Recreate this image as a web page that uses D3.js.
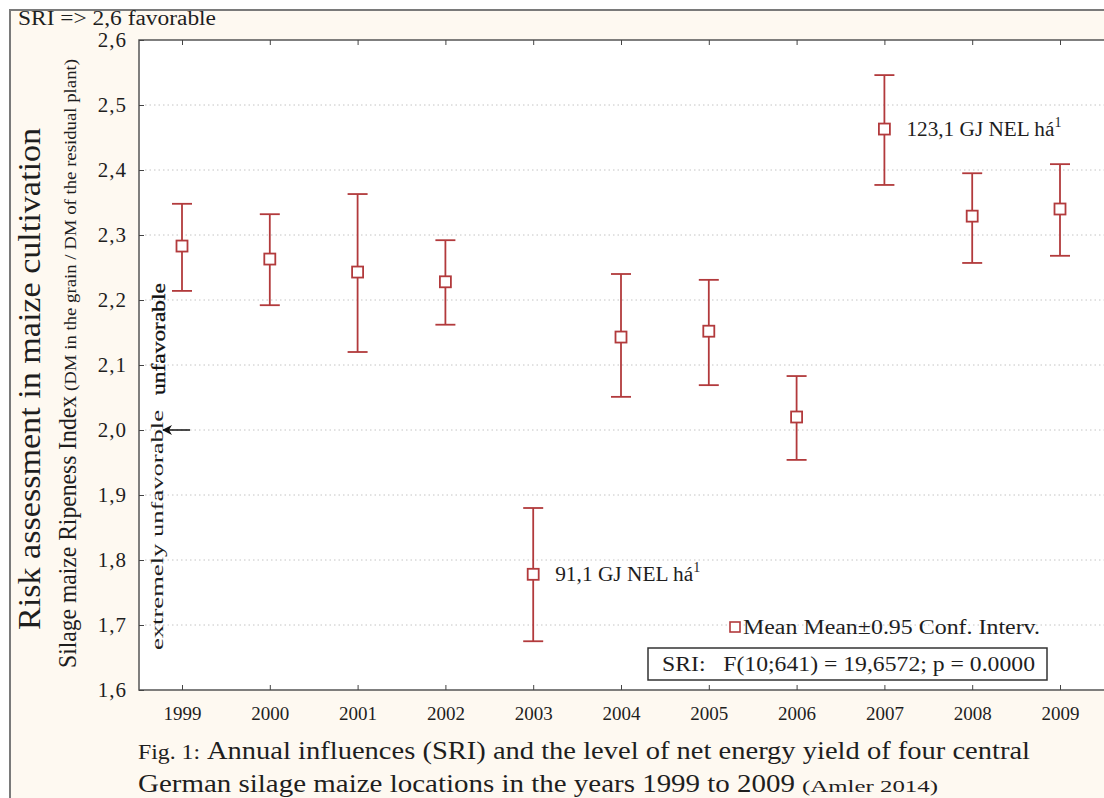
<!DOCTYPE html>
<html>
<head>
<meta charset="utf-8">
<script src="https://cdn.jsdelivr.net/npm/d3@7"></script>
<style>
  body { margin: 0; background: #fff; }
</style>
</head>
<body>
<svg id="chart" width="1104" height="798"></svg>
<script>
// data
const years = ["1999", "2000", "2001", "2002", "2003", "2004", "2005", "2006", "2007", "2008", "2009"];
const means = [2.283, 2.263, 2.243, 2.228, 1.778, 2.143, 2.152, 2.020, 2.463, 2.329, 2.340];
const upper = [2.348, 2.332, 2.363, 2.292, 1.880, 2.240, 2.231, 2.083, 2.546, 2.395, 2.409];
const lower = [2.214, 2.192, 2.120, 2.162, 1.675, 2.051, 2.069, 1.954, 2.377, 2.257, 2.268];
const yTicks = [1.6, 1.7, 1.8, 1.9, 2.0, 2.1, 2.2, 2.3, 2.4, 2.5, 2.6];
const notes = [
  { year: "2007", value: 2.463, label: "123,1 GJ NEL há", len: 148 },
  { year: "2003", value: 1.778, label: "91,1 GJ NEL há", len: 138 }
];

const data = years.map((y, i) => ({ year: y, mean: means[i], hi: upper[i], lo: lower[i] }));

const svg = d3.select("#chart");
const red = "#b23a3c";
const ink = "#1e1e1e";
const serif = '"Liberation Serif", "Times New Roman", serif';
const fmt = d => d3.format(".1f")(d).replace(".", ",");

// little helper for text with fixed length
function label(sel, size, len) {
  sel.style("font-family", serif).attr("font-size", size).attr("fill", ink);
  if (len) sel.attr("textLength", len).attr("lengthAdjust", "spacingAndGlyphs");
  return sel;
}

// outer frame
svg.append("rect")
  .attr("x", 10).attr("y", 10).attr("width", 1110).attr("height", 800)
  .attr("fill", "#fef9f1").attr("stroke", "#7a7a7a").attr("stroke-width", 2);

const pLeft = 139, pTop = 40, pBottom = 690, pRight = 1110;

const x = d3.scalePoint().domain(years).range([182, 1060]);
const y = d3.scaleLinear().domain([1.6, 2.6]).range([pBottom, pTop]);

// plot area
svg.append("rect")
  .attr("x", pLeft).attr("y", pTop).attr("width", pRight - pLeft).attr("height", pBottom - pTop)
  .attr("fill", "#fff").attr("stroke", "#555").attr("stroke-width", 1.5);

// dotted grid
svg.append("g").selectAll("line")
  .data(yTicks.filter(t => t > 1.6 && t < 2.6))
  .join("line")
  .attr("x1", pLeft + 6).attr("x2", pRight)
  .attr("y1", d => y(d)).attr("y2", d => y(d))
  .attr("stroke", "#c4c4c4").attr("stroke-width", 1).attr("stroke-dasharray", "1.5,3");

// y axis
const yAxis = svg.append("g")
  .attr("transform", `translate(${pLeft},0)`)
  .call(d3.axisLeft(y).tickValues(yTicks).tickFormat(fmt).tickSize(-5).tickPadding(12));
yAxis.attr("font-family", serif);
yAxis.select(".domain").remove();
yAxis.selectAll("line").attr("stroke", "#444");
yAxis.selectAll("text").style("font-family", serif).attr("font-size", 21).attr("fill", ink)
  .attr("letter-spacing", 1);

// x axis bottom and top
const xAxis = svg.append("g")
  .attr("transform", `translate(0,${pBottom})`)
  .call(d3.axisBottom(x).tickSize(-5).tickPadding(17));
xAxis.attr("font-family", serif);
xAxis.select(".domain").remove();
xAxis.selectAll("line").attr("stroke", "#444");
xAxis.selectAll("text").style("font-family", serif).attr("font-size", 19).attr("fill", ink);

const xTop = svg.append("g")
  .attr("transform", `translate(0,${pTop})`)
  .call(d3.axisTop(x).tickSize(-5).tickFormat(""));
xTop.select(".domain").remove();
xTop.selectAll("line").attr("stroke", "#444");

// error bars
const g = svg.append("g");
g.selectAll(".whisker")
  .data(data)
  .join("line")
  .attr("class", "whisker")
  .attr("x1", d => x(d.year)).attr("x2", d => x(d.year))
  .attr("y1", d => y(d.hi)).attr("y2", d => y(d.lo))
  .attr("stroke", red).attr("stroke-width", 1.8);
["hi", "lo"].forEach(k => {
  g.selectAll(".cap-" + k)
    .data(data)
    .join("line")
    .attr("class", "cap-" + k)
    .attr("x1", d => x(d.year) - 10).attr("x2", d => x(d.year) + 10)
    .attr("y1", d => y(d[k])).attr("y2", d => y(d[k]))
    .attr("stroke", red).attr("stroke-width", 1.8);
});
g.selectAll(".mean")
  .data(data)
  .join("rect")
  .attr("class", "mean")
  .attr("x", d => x(d.year) - 5.5).attr("y", d => y(d.mean) - 5.5)
  .attr("width", 11).attr("height", 11)
  .attr("fill", "#fff").attr("stroke", red).attr("stroke-width", 1.8);

// annotations
notes.forEach(n => {
  const t = svg.append("text")
    .attr("x", x(n.year) + 22).attr("y", y(n.value) + 7);
  t.style("font-family", serif).attr("fill", ink);
  label(t.append("tspan").text(n.label), 20, n.len);
  label(t.append("tspan").attr("dy", -9).text("1"), 14);
});

// legend
svg.append("rect")
  .attr("x", 730).attr("y", 622).attr("width", 10).attr("height", 10)
  .attr("fill", "#fff").attr("stroke", red).attr("stroke-width", 1.6);
label(svg.append("text").attr("x", 743).attr("y", 634), 20, 297)
  .text("Mean Mean±0.95 Conf. Interv.");

svg.append("rect")
  .attr("x", 648).attr("y", 648).attr("width", 399).attr("height", 32)
  .attr("fill", "#fff").attr("stroke", "#333").attr("stroke-width", 1.5);
label(svg.append("text").attr("x", 662).attr("y", 671), 20, 373)
  .attr("xml:space", "preserve")
  .text("SRI:   F(10;641) = 19,6572; p = 0.0000");

// top-left note
label(svg.append("text").attr("x", 18).attr("y", 25), 20, 198)
  .text("SRI => 2,6 favorable");

// y titles
label(svg.append("text")
  .attr("transform", `translate(40,${(128 + 630) / 2}) rotate(-90)`)
  .attr("text-anchor", "middle"), 32, 502)
  .text("Risk assessment in maize cultivation");

const t2 = svg.append("text")
  .attr("transform", `translate(76,668) rotate(-90)`)
  .style("font-family", serif).attr("fill", ink);
label(t2.append("tspan"), 25, 272).text("Silage maize Ripeness Index");
label(t2.append("tspan").attr("dx", 5), 16, 332).text("(DM in the grain / DM of the residual plant)");

// risk labels on the left inside the plot
label(svg.append("text")
  .attr("transform", `translate(163,650) rotate(-90)`), 17, 240)
  .text("extremely unfavorable");
label(svg.append("text")
  .attr("transform", `translate(165,395) rotate(-90)`), 18, 112)
  .attr("fill", "#111").attr("stroke", "#111").attr("stroke-width", 0.3)
  .text("unfavorable");

svg.append("defs").append("marker")
  .attr("id", "ah").attr("viewBox", "0 0 10 10").attr("refX", 9).attr("refY", 5)
  .attr("markerUnits", "userSpaceOnUse")
  .attr("markerWidth", 14).attr("markerHeight", 10).attr("orient", "auto")
  .append("path").attr("d", "M10,5 L0,0 L3,5 L0,10 Z").attr("fill", "#111");
svg.append("line")
  .attr("x1", 190).attr("x2", 163).attr("y1", y(2.0)).attr("y2", y(2.0))
  .attr("stroke", "#111").attr("stroke-width", 1.5)
  .attr("marker-end", "url(#ah)");

// caption
const c1 = svg.append("text").attr("x", 138).attr("y", 759).style("font-family", serif).attr("fill", ink);
label(c1.append("tspan"), 20, 62).text("Fig. 1:");
label(c1.append("tspan").attr("dx", 7), 25, 823).text("Annual influences (SRI) and the level of net energy yield of four central");
const c2 = svg.append("text").attr("x", 138).attr("y", 792).style("font-family", serif).attr("fill", ink);
label(c2.append("tspan"), 25, 657).text("German silage maize locations in the years 1999 to 2009");
label(c2.append("tspan").attr("dx", 7), 17, 136).text("(Amler 2014)");
</script>
</body>
</html>
